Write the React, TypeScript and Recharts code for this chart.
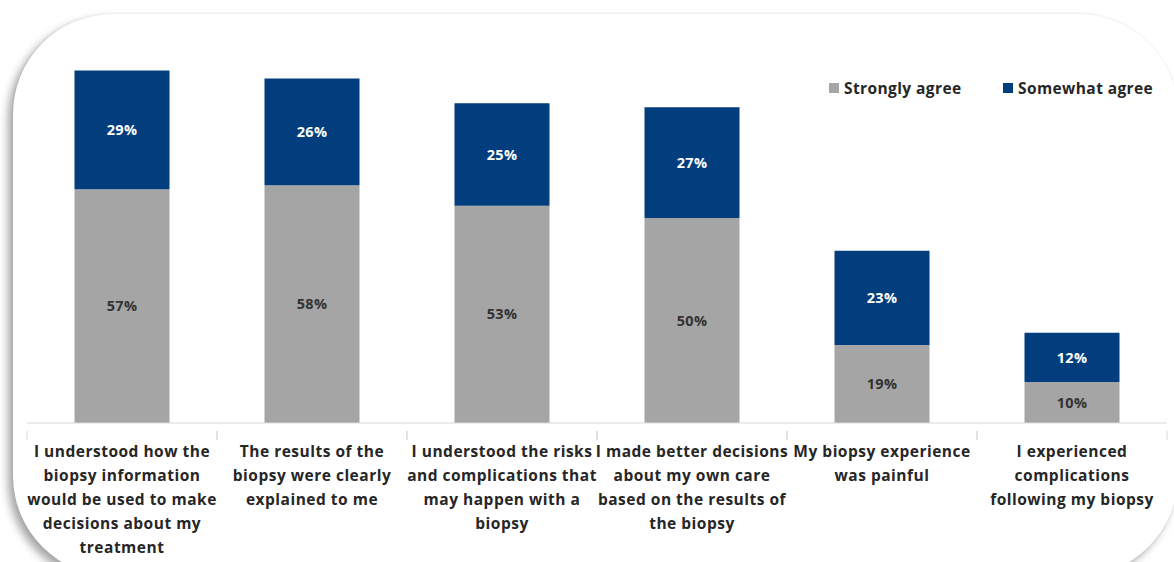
import { BarChart, Bar, XAxis, YAxis, LabelList } from 'recharts';

const categories = ['Used for decisions', 'Clearly explained', 'Risks understood', 'Better decisions', 'Painful', 'Complications'];
const tickLines = [
  ['I understood how the', 'biopsy information', 'would be used to make', 'decisions about my', 'treatment'],
  ['The results of the', 'biopsy were clearly', 'explained to me'],
  ['I understood the risks', 'and complications that', 'may happen with a', 'biopsy'],
  ['I made better decisions', 'about my own care', 'based on the results of', 'the biopsy'],
  ['My biopsy experience', 'was painful'],
  ['I experienced', 'complications', 'following my biopsy'],
];
const stronglyAgree = [57, 58, 53, 50, 19, 10];
const somewhatAgree = [29, 26, 25, 27, 23, 12];

const GRAY = '#a5a5a5';
const NAVY = '#023e7d';
const FONT = '"Open Sans", Lato, sans-serif';

const W = 1174;
const H = 562;
const LEFT = 27;
const RIGHT = 7;
const BAND = (W - LEFT - RIGHT) / categories.length;

const data = categories.map((c, i) => ({
  name: c,
  strongly: stronglyAgree[i],
  somewhat: somewhatAgree[i],
}));

const CategoryTick = (props: any) => {
  const { x, y, index } = props;
  const lines = tickLines[index] || [];
  return (
    <g>
      <line x1={x - BAND / 2} y1={y} x2={x - BAND / 2} y2={y + 9} stroke="#d9d9d9" />
      <line x1={x + BAND / 2} y1={y} x2={x + BAND / 2} y2={y + 9} stroke="#d9d9d9" />
      <text
        x={x}
        y={y + 26}
        textAnchor="middle"
        fontFamily={FONT}
        fontWeight={700}
        fontSize={15.5}
        letterSpacing={0.5}
        fill="#262626"
      >
        {lines.map((l, k) => (
          <tspan key={k} x={x} dy={k === 0 ? 0 : 24}>{l}</tspan>
        ))}
      </text>
    </g>
  );
};

const legendText = { fontFamily: FONT, fontWeight: 700, fontSize: 15.5, letterSpacing: 0.4, color: '#262626', lineHeight: '18px' };

const LegendBox = () => (
  <>
    <div style={{ position: 'absolute', left: 829, top: 79, display: 'flex', alignItems: 'center', ...legendText }}>
      <span style={{ width: 10, height: 10, background: GRAY, marginRight: 5, display: 'inline-block' }} />
      Strongly agree
    </div>
    <div style={{ position: 'absolute', left: 1003, top: 79, display: 'flex', alignItems: 'center', ...legendText }}>
      <span style={{ width: 10, height: 10, background: NAVY, marginRight: 5, display: 'inline-block' }} />
      Somewhat agree
    </div>
  </>
);

const labelStyle = { fontFamily: FONT, fontWeight: 700, fontSize: 14.5, letterSpacing: 0.3 };

const App = () => {
  return (
    <div style={{ position: 'absolute', left: 0, top: 0, width: W, height: H, overflow: 'hidden', background: '#fff' }}>
      {/* rounded card behind the chart */}
      <div
        style={{
          position: 'absolute',
          left: 13,
          top: 14,
          width: 1165,
          height: 562,
          borderRadius: 100,
          background: '#fff',
          boxShadow: '-5px 5px 8px rgba(0,0,0,0.35), 0 0 3px rgba(0,0,0,0.08)',
        }}
      />
      <div style={{ position: 'absolute', left: 0, top: 0 }}>
        <BarChart width={W} height={H} data={data} margin={{ top: 13, right: RIGHT, bottom: 9, left: LEFT }} barCategoryGap="25%">
          <XAxis
            dataKey="name"
            interval={0}
            height={130}
            tickLine={false}
            axisLine={{ stroke: '#d9d9d9' }}
            tick={<CategoryTick />}
          />
          <YAxis hide domain={[0, 100]} />
          <Bar dataKey="strongly" stackId="a" fill={GRAY} isAnimationActive={false}>
            <LabelList
              dataKey="strongly"
              position="center"
              formatter={(v: any) => `${v}%`}
              style={{ ...labelStyle, fill: '#333333' }}
            />
          </Bar>
          <Bar dataKey="somewhat" stackId="a" fill={NAVY} isAnimationActive={false}>
            <LabelList
              dataKey="somewhat"
              position="center"
              formatter={(v: any) => `${v}%`}
              style={{ ...labelStyle, fill: '#ffffff' }}
            />
          </Bar>
        </BarChart>
      </div>
      <LegendBox />
    </div>
  );
};

export default App;
